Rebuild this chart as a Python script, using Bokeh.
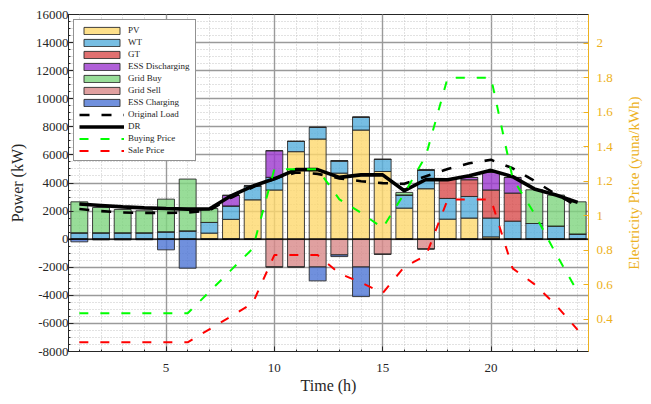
import math
from bokeh.plotting import figure
from bokeh.models import (ColumnDataSource, Range1d, LinearAxis, FixedTicker, Span, Label,
                          Legend, LegendItem, CustomJSTickFormatter)
from bokeh.embed import file_html
from bokeh.resources import INLINE

# ---------------- data ----------------
hours = list(range(1, 25))
pv       = [0, 0, 0, 0, 0, 0, 430, 1410, 2800, 3500, 6230, 7130, 4700, 7770, 4820, 2210, 3590, 1425, 1500, 160, 0, 0, 0, 0]
wt       = [450, 450, 450, 450, 520, 590, 760, 950, 1000, 900, 730, 830, 880, 910, 860, 930, 1330, 1475, 1540, 1340, 1280, 1115, 925, 360]
gt       = [0, 0, 0, 0, 0, 0, 0, 0, 0, 0, 0, 0, 0, 0, 0, 0, 0, 1350, 1190, 2000, 2000, 0, 0, 0]
ess_dis  = [0, 0, 0, 0, 0, 0, 0, 760, 0, 1900, 0, 0, 0, 0, 0, 0, 0, 0, 165, 1250, 1115, 0, 0, 0]
grid_buy = [2210, 1805, 1660, 1570, 2330, 3690, 990, 0, 0, 0, 0, 0, 0, 0, 0, 190, 0, 0, 0, 0, 0, 2400, 2215, 2300]
grid_sell = [0, 0, 0, 0, 0, 0, 0, 0, 0, -1980, -1980, -1980, -1120, -1980, -1070, 0, -700, 0, 0, 0, 0, 0, 0, 0]
ess_ch   = [-190, -50, -50, -40, -760, -2070, 0, 0, 0, 0, 0, -990, -120, -2110, 0, 0, 0, 0, 0, 0, 0, 0, 0, 0]
orig_load = [2150, 2000, 1900, 1870, 1870, 1900, 2050, 2950, 3700, 4300, 4750, 4650, 4330, 4130, 3990, 3940, 4480, 5000, 5400, 5650, 5050, 4150, 3200, 2350]
dr_load  = [2500, 2400, 2300, 2230, 2180, 2140, 2150, 3090, 3780, 4300, 4950, 4950, 4400, 4580, 4580, 3450, 4250, 4230, 4515, 4900, 4450, 3580, 3140, 2620]
buy_price = [0.436, 0.436, 0.436, 0.436, 0.436, 0.436, 0.56, 0.686, 0.81, 1.27, 1.27, 1.27, 1.096, 1.018, 0.93, 1.13, 1.35, 1.8, 1.8, 1.8, 1.217, 1.014, 0.78, 0.56]
sale_price = [0.268, 0.268, 0.268, 0.268, 0.268, 0.268, 0.343, 0.418, 0.494, 0.773, 0.773, 0.773, 0.667, 0.614, 0.553, 0.705, 0.77, 1.095, 1.095, 1.095, 0.696, 0.605, 0.483, 0.34]

power_ticks = [-8000, -6000, -4000, -2000, 0, 2000, 4000, 6000, 8000, 10000, 12000, 14000, 16000]
power_minor = list(range(-8000, 16001, 500))
price_ticks = [0.4, 0.6, 0.8, 1.0, 1.2, 1.4, 1.6, 1.8, 2.0]
time_ticks = [5, 10, 15, 20]

pos_keys = ["pv", "wt", "gt", "ess_dis", "grid_buy"]
pos_names = ["PV", "WT", "GT", "ESS Discharging", "Grid Buy"]
pos_colors = ["#FED86D", "#55AEDC", "#D84C4C", "#9C38CE", "#7ED47E"]
neg_keys = ["grid_sell", "ess_ch"]
neg_names = ["Grid Sell", "ESS Charging"]
neg_colors = ["#D88888", "#4C74D4"]

FONT = "Liberation Serif"
TXT = "#262626"
ORANGE = "#EDB120"

src = ColumnDataSource(dict(hour=hours, pv=pv, wt=wt, gt=gt, ess_dis=ess_dis,
                            grid_buy=grid_buy, grid_sell=grid_sell, ess_ch=ess_ch,
                            orig=orig_load, dr=dr_load, buy=buy_price, sale=sale_price))

p = figure(frame_width=520, frame_height=337, output_backend="svg", toolbar_location=None,
           x_range=Range1d(0.5, 24.5), y_range=Range1d(-8000, 16000))
p.min_border_left = 68
p.min_border_right = 62
p.min_border_top = 14
p.min_border_bottom = 52
p.background_fill_color = "white"
p.border_fill_color = "white"
p.outline_line_color = TXT
p.outline_line_width = 1

p.extra_y_ranges = {"price": Range1d(0.2147, 2.166)}

# ---------------- bars ----------------
pos_r = p.vbar_stack(pos_keys, x="hour", width=0.78, source=src, fill_color=pos_colors,
                     fill_alpha=0.8, line_color="#2a2a2a", line_width=0.9)
neg_r = p.vbar_stack(neg_keys, x="hour", width=0.78, source=src, fill_color=neg_colors,
                     fill_alpha=0.8, line_color="#2a2a2a", line_width=0.9)

zero = Span(location=0, dimension="width", line_color="black", line_width=1.3)
p.add_layout(zero)

# ---------------- lines ----------------
r_orig = p.line("hour", "orig", source=src, line_color="black", line_width=2.6, line_dash="10 12")
r_dr = p.line("hour", "dr", source=src, line_color="black", line_width=3.6)
r_buy = p.line("hour", "buy", source=src, y_range_name="price", line_color="#00FF00",
               line_width=2, line_dash="9 12")
r_sale = p.line("hour", "sale", source=src, y_range_name="price", line_color="#FF0000",
                line_width=2, line_dash="9 12")

# ---------------- axes ----------------
xax = p.xaxis[0]
xax.ticker = FixedTicker(ticks=time_ticks, minor_ticks=hours)
xax.axis_label = "Time (h)"
yax = p.yaxis[0]
yax.ticker = FixedTicker(ticks=power_ticks, minor_ticks=power_minor)
yax.formatter = CustomJSTickFormatter(code="return tick.toFixed(0);")
yax.axis_label = "Power (kW)"

for ax in (xax, yax):
    ax.axis_label_text_font = FONT
    ax.axis_label_text_font_size = "16px"
    ax.axis_label_text_font_style = "normal"
    ax.axis_label_text_color = TXT
    ax.major_label_text_font = FONT
    ax.major_label_text_font_size = "13px"
    ax.major_label_text_color = TXT
    ax.axis_line_color = TXT
    ax.major_tick_line_color = TXT
    ax.major_tick_in = 5
    ax.major_tick_out = 0
    ax.minor_tick_line_color = TXT
    ax.minor_tick_in = 2
    ax.minor_tick_out = 0
xax.major_label_standoff = 12
xax.axis_label_standoff = 2
yax.major_label_standoff = 0
yax.axis_label_standoff = 7

rax = LinearAxis(y_range_name="price",
                 ticker=FixedTicker(ticks=price_ticks),
                 formatter=CustomJSTickFormatter(code="return Number(tick.toFixed(2)).toString();"))
rax.major_label_text_font = FONT
rax.major_label_text_font_size = "13px"
rax.major_label_text_color = ORANGE
rax.axis_line_color = ORANGE
rax.major_tick_line_color = ORANGE
rax.major_tick_in = 5
rax.major_tick_out = 0
rax.minor_tick_line_color = None
rax.major_label_standoff = 8
p.add_layout(rax, "right")

# right-side title, reading bottom-to-top, placed in a side panel (not clipped to the frame)
price_title = Label(x=26.62, y=1.19, y_range_name="price", text="Electricity Price (yuna/kWh)",
                    angle=math.pi / 2, text_align="center", text_baseline="middle",
                    text_font=FONT, text_font_size="15px", text_color=ORANGE)
p.add_layout(price_title, "right")

# ---------------- grids ----------------
p.xgrid.ticker = FixedTicker(ticks=time_ticks, minor_ticks=hours)
p.ygrid.ticker = FixedTicker(ticks=power_ticks, minor_ticks=power_minor)
for g in (p.xgrid, p.ygrid):
    g.grid_line_color = "#9a9a9a"
    g.grid_line_width = 1.4
    g.minor_grid_line_color = "#c4c4c4"
    g.minor_grid_line_dash = "1 2"
    g.minor_grid_line_width = 1

# ---------------- legend ----------------
items = []
for name, r in zip(pos_names, pos_r):
    items.append(LegendItem(label=name, renderers=[r]))
for name, r in zip(neg_names, neg_r):
    items.append(LegendItem(label=name, renderers=[r]))
items.append(LegendItem(label="Original Load", renderers=[r_orig]))
items.append(LegendItem(label="DR", renderers=[r_dr]))
items.append(LegendItem(label="Buying Price", renderers=[r_buy]))
items.append(LegendItem(label="Sale Price", renderers=[r_sale]))

legend = Legend(items=items, location="top_left", margin=5, padding=5, spacing=2,
                glyph_width=45, glyph_height=9, label_height=10, label_standoff=4,
                label_text_font=FONT, label_text_font_size="9px", label_text_color=TXT,
                border_line_color=TXT, border_line_width=1, background_fill_color="white",
                background_fill_alpha=1.0)
p.add_layout(legend, "center")

open("out.html", "w").write(file_html(p, INLINE))
